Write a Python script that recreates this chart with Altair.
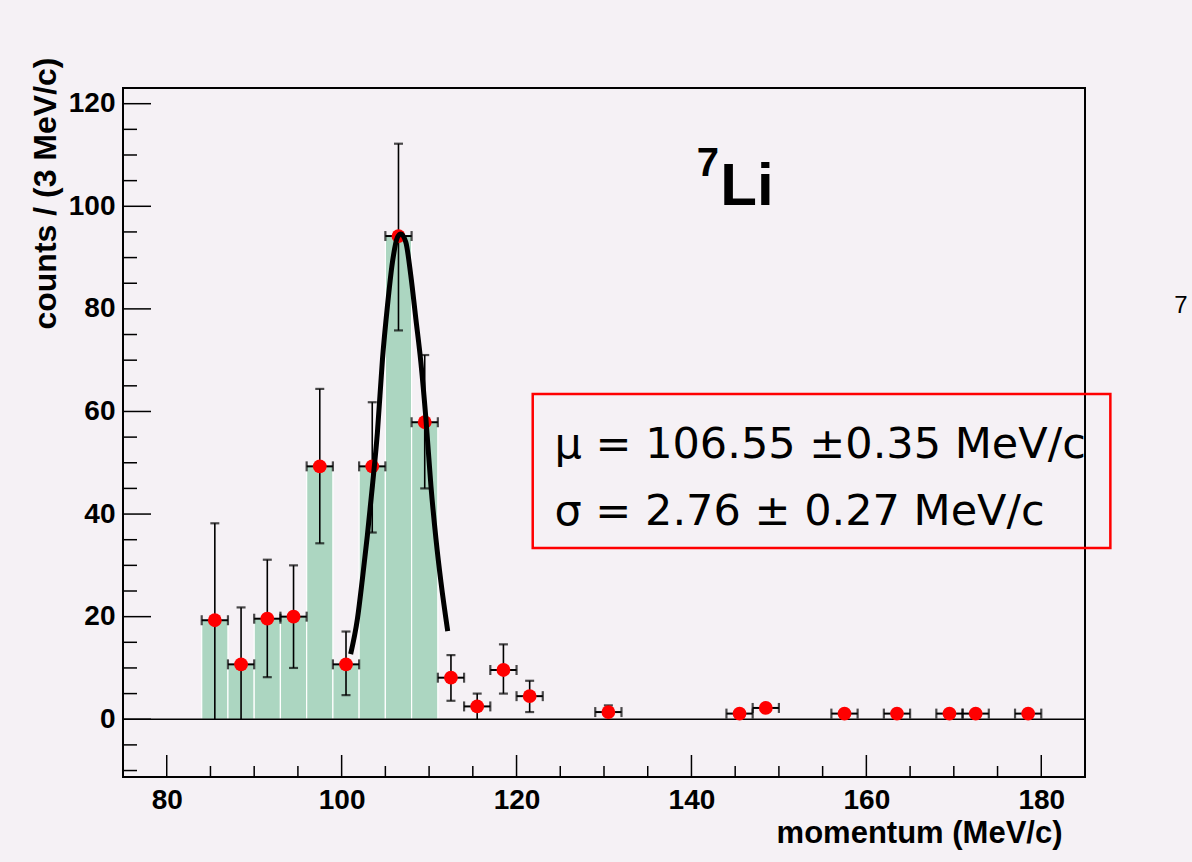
import altair as alt
import pandas as pd

# ---------------- data ----------------
bin_centers = [85.5, 88.5, 91.5, 94.5, 97.5, 100.5, 103.5, 106.5, 109.5,
               112.5, 115.5, 118.5, 121.5, 130.5, 145.5, 148.5, 157.5,
               163.5, 169.5, 172.5, 178.5]
counts = [19.3, 10.7, 19.6, 20.0, 49.3, 10.7, 49.3, 94.2, 57.9,
          8.1, 2.5, 9.6, 4.5, 1.4, 1.1, 2.2, 1.1, 1.1, 1.1, 1.1, 1.1]
err_upper = [38.2, 21.8, 31.1, 30.0, 64.4, 17.1, 61.8, 112.2, 71.0,
             12.5, 5.0, 14.6, 7.5, 2.7, 1.1, 2.2, 1.1, 1.1, 1.1, 1.1, 1.1]
err_lower = [0.0, 0.0, 8.2, 10.0, 34.3, 4.7, 36.4, 75.8, 45.0,
             3.6, 0.0, 5.0, 1.4, 0.0, 1.1, 2.2, 1.1, 1.1, 1.1, 1.1, 1.1]
bin_width = 3.0

hist_lo = [84, 87, 90, 93, 96, 99, 102, 105, 108]
hist_hi = [87, 90, 93, 96, 99, 102, 105, 108, 111]
hist_counts = [19.3, 10.7, 19.6, 20.0, 49.3, 10.7, 49.3, 94.2, 57.9]

fit_x = [101.03, 101.8, 102.37, 102.94, 103.52, 104.09, 104.67, 105.24,
         105.81, 106.39, 106.77, 107.34, 107.91, 108.49, 109.06, 109.64,
         110.21, 110.79, 111.36, 112.13]
fit_y = [12.7, 19.5, 27.3, 35.8, 45.5, 55.9, 70.2, 80.6, 89.1, 94.0,
         94.6, 93.0, 86.5, 78.0, 69.6, 58.5, 45.5, 35.1, 26.7, 17.2]

x_major = [80, 100, 120, 140, 160, 180]
x_minor = [85, 90, 95, 105, 110, 115, 125, 130, 135, 145, 150, 155,
           165, 170, 175]
y_major = [0, 20, 40, 60, 80, 100, 120]
y_minor = [-10, -5, 5, 10, 15, 25, 30, 35, 45, 50, 55, 65, 70, 75, 85,
           90, 95, 105, 110, 115]

x_title = "momentum (MeV/c)"
y_title = "counts / (3 MeV/c)"
stat_lines = ["\u03bc = 106.55 \u00b10.35 MeV/c", "\u03c3 = 2.76 \u00b1 0.27 MeV/c"]

# ---------------- tables ----------------
pts = pd.DataFrame({
    "x": bin_centers,
    "y": counts,
    "hi": err_upper,
    "lo": err_lower,
})
pts["xlo"] = pts["x"] - bin_width / 2
pts["xhi"] = pts["x"] + bin_width / 2

hist = pd.DataFrame({"lo": hist_lo, "hi": hist_hi, "c": hist_counts})
hist["zero"] = 0.0
fit = pd.DataFrame({"x": fit_x, "y": fit_y})
xmaj = pd.DataFrame({"v": x_major})
xmin = pd.DataFrame({"v": x_minor})
ymaj = pd.DataFrame({"v": y_major})
ymin = pd.DataFrame({"v": y_minor})
one = pd.DataFrame({"k": [0]})

W, H = 962, 689
BG = "#f5f1f5"
FONT = "Liberation Sans"

xs = alt.Scale(domain=[75, 185], nice=False, zero=False)
ys = alt.Scale(domain=[-11.26, 123.06], nice=False, zero=False)

xaxis = alt.Axis(values=x_major, labelFont=FONT, labelFontWeight="bold",
                 labelFontSize=28, labelColor="black", labelPadding=9,
                 domain=False, ticks=False, grid=False,
                 title=x_title, titleFont=FONT, titleFontWeight="bold",
                 titleFontSize=31, titleColor="black", titleAnchor="end",
                 titleAlign="right", titleBaseline="alphabetic",
                 titleX=939, titleY=65)
yaxis = alt.Axis(values=y_major, labelFont=FONT, labelFontWeight="bold",
                 labelFontSize=28, labelColor="black", labelPadding=8,
                 domain=False, ticks=False, grid=False,
                 title=y_title, titleFont=FONT, titleFontWeight="bold",
                 titleFontSize=32, titleColor="black", titleAngle=270,
                 titleAlign="right", titleBaseline="alphabetic",
                 titleX=-68, titleY=-31)

bars = alt.Chart(hist).mark_bar(fill="#acd6c1", stroke="white",
                                strokeWidth=1.2).encode(
    x=alt.X("lo:Q", scale=xs, axis=xaxis),
    x2="hi:Q",
    y=alt.Y("c:Q", scale=ys, axis=yaxis),
    y2="zero:Q",
)

zero_line = alt.Chart(one).mark_rule(color="black", strokeWidth=1.5).encode(
    y=alt.datum(0, scale=ys))

verr = alt.Chart(pts).mark_rule(color="black", strokeWidth=1.6).encode(
    x=alt.X("x:Q", scale=xs), y=alt.Y("lo:Q", scale=ys), y2="hi:Q")

top_caps = alt.Chart(pts).transform_filter("datum.hi > datum.y + 0.05").mark_tick(
    color="black", orient="horizontal", size=9, thickness=2.2).encode(
    x=alt.X("x:Q", scale=xs), y=alt.Y("hi:Q", scale=ys))

bot_caps = alt.Chart(pts).transform_filter(
    "datum.lo > 0.05 && datum.lo < datum.y - 0.05").mark_tick(
    color="black", orient="horizontal", size=9, thickness=2.2).encode(
    x=alt.X("x:Q", scale=xs), y=alt.Y("lo:Q", scale=ys))

herr = alt.Chart(pts).mark_rule(color="black", strokeWidth=2).encode(
    x=alt.X("xlo:Q", scale=xs), x2="xhi:Q", y=alt.Y("y:Q", scale=ys))

lcaps = alt.Chart(pts).mark_tick(color="black", orient="vertical", size=10,
                                 thickness=2.2).encode(
    x=alt.X("xlo:Q", scale=xs), y=alt.Y("y:Q", scale=ys))
rcaps = alt.Chart(pts).mark_tick(color="black", orient="vertical", size=10,
                                 thickness=2.2).encode(
    x=alt.X("xhi:Q", scale=xs), y=alt.Y("y:Q", scale=ys))

points = alt.Chart(pts).mark_circle(color="#ff0000", size=190, opacity=1).encode(
    x=alt.X("x:Q", scale=xs), y=alt.Y("y:Q", scale=ys))

fit_line = alt.Chart(fit).mark_line(color="black", strokeWidth=5,
                                    interpolate="monotone").encode(
    x=alt.X("x:Q", scale=xs), y=alt.Y("y:Q", scale=ys))

xt_major = alt.Chart(xmaj).mark_rule(color="black", strokeWidth=1.5).encode(
    x=alt.X("v:Q", scale=xs), y=alt.value(H), y2=alt.value(H - 22))
xt_minor = alt.Chart(xmin).mark_rule(color="black", strokeWidth=1.5).encode(
    x=alt.X("v:Q", scale=xs), y=alt.value(H), y2=alt.value(H - 11))
yt_major = alt.Chart(ymaj).mark_rule(color="black", strokeWidth=1.5).encode(
    y=alt.Y("v:Q", scale=ys), x=alt.value(0), x2=alt.value(28))
yt_minor = alt.Chart(ymin).mark_rule(color="black", strokeWidth=1.5).encode(
    y=alt.Y("v:Q", scale=ys), x=alt.value(0), x2=alt.value(14))

li_text = alt.Chart(one).mark_text(text="Li", font=FONT, fontWeight="bold",
                                   fontSize=60, align="left",
                                   baseline="alphabetic", color="black").encode(
    x=alt.datum(143.3, scale=xs), y=alt.datum(100.3, scale=ys))
seven = alt.Chart(one).mark_text(text="7", font=FONT, fontWeight="bold",
                                 fontSize=40, align="left",
                                 baseline="alphabetic", color="black").encode(
    x=alt.datum(140.6, scale=xs), y=alt.datum(106.0, scale=ys))

stat1 = alt.Chart(one).mark_text(text=stat_lines[0], font="DejaVu Sans",
                                 fontSize=43, align="left",
                                 baseline="alphabetic", color="black").encode(
    x=alt.datum(124.33, scale=xs), y=alt.datum(50.87, scale=ys))
stat2 = alt.Chart(one).mark_text(text=stat_lines[1], font="DejaVu Sans",
                                 fontSize=43, align="left",
                                 baseline="alphabetic", color="black").encode(
    x=alt.datum(124.33, scale=xs), y=alt.datum(37.85, scale=ys))
box = alt.Chart(one).mark_rect(fill=None, fillOpacity=0, stroke="#ff0000",
                               strokeWidth=2.5).encode(
    x=alt.datum(121.85, scale=xs), x2=alt.datum(187.9),
    y=alt.datum(63.4, scale=ys), y2=alt.datum(33.4))

edge_seven = alt.Chart(one).mark_text(text="7", font=FONT, fontSize=24,
                                      align="left", baseline="alphabetic",
                                      color="black").encode(
    x=alt.datum(195.2, scale=xs), y=alt.datum(79.2, scale=ys))

chart = alt.layer(
    bars, zero_line, verr, top_caps, bot_caps, herr, lcaps, rcaps, points,
    fit_line, xt_major, xt_minor, yt_major, yt_minor,
    li_text, seven, stat1, stat2, box, edge_seven,
).properties(
    width=W, height=H,
    autosize=alt.AutoSizeParams(type="none"),
    padding={"left": 123, "top": 88, "right": 107, "bottom": 85},
    background=BG,
).configure_view(
    fill=BG, stroke="black", strokeWidth=2,
)

chart.save("out.html", embed_options={"renderer": "svg", "actions": False})
